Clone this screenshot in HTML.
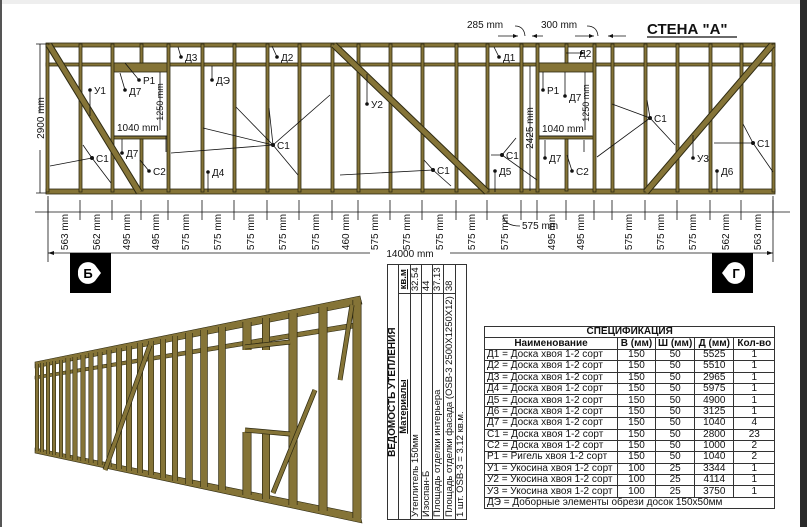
<!DOCTYPE html>
<html><head><meta charset="utf-8"><style>
html,body{margin:0;padding:0;background:#fff;width:807px;height:527px;overflow:hidden;position:relative;font-family:"Liberation Sans","DejaVu Sans",sans-serif}
svg{position:absolute;left:0;top:0}
#spec{position:absolute;left:484px;top:326px;border-collapse:collapse;font-size:10px;line-height:10px;color:#111}
#spec td{border:1px solid #333;padding:0 2px;height:10.4px;text-align:center;white-space:nowrap}
#spec td.l{text-align:left}
#ved{position:absolute;left:387px;top:268px;width:252px;height:80px;transform-origin:0 0;transform:translate(0,252px) rotate(-90deg);border-collapse:collapse;font-size:9.5px;line-height:10px;color:#111}
#ved td{border:1px solid #333;padding:0 2px;white-space:nowrap;height:10px}
</style></head><body>
<svg width="807" height="527" viewBox="0 0 807 527" font-family="Liberation Sans, DejaVu Sans, sans-serif">
<rect x="0" y="0" width="807" height="4" fill="#eee"/>
<rect x="0" y="0" width="2" height="527" fill="#555"/>
<rect x="800" y="0" width="7" height="527" fill="#2a2a2a"/>
<g fill="#857437" stroke="#2e2a12" stroke-width="0.8">
<rect x="46" y="43" width="729" height="4"/>
<rect x="46" y="63" width="729" height="3"/>
<rect x="46" y="189" width="729" height="5"/>
<rect x="112" y="63" width="56" height="9"/>
<rect x="112" y="136" width="56" height="3"/>
<rect x="537" y="63" width="57" height="9"/>
<rect x="537" y="136" width="57" height="3"/>
</g>
<g fill="#fff" stroke="none"><rect x="114" y="73" width="52" height="62"/><rect x="539" y="73" width="53" height="62"/></g>
<g fill="#857437" stroke="#2e2a12" stroke-width="0.8">
<rect x="46" y="44" width="3" height="148"/><rect x="79" y="44" width="3" height="148"/><rect x="111" y="44" width="3" height="148"/>
<rect x="140" y="44" width="3" height="19"/><rect x="140" y="139" width="3" height="52"/>
<rect x="167" y="44" width="3" height="148"/><rect x="201" y="44" width="3" height="148"/><rect x="233" y="44" width="3" height="148"/>
<rect x="266" y="44" width="3" height="148"/><rect x="298" y="44" width="3" height="148"/><rect x="331" y="44" width="3" height="148"/>
<rect x="357" y="44" width="3" height="148"/><rect x="389" y="44" width="3" height="148"/><rect x="421" y="44" width="3" height="148"/>
<rect x="455" y="44" width="3" height="148"/><rect x="486" y="44" width="3" height="148"/><rect x="520" y="44" width="3" height="148"/>
<rect x="536" y="44" width="3" height="148"/><rect x="565" y="44" width="3" height="19"/><rect x="565" y="139" width="3" height="52"/>
<rect x="593" y="44" width="3" height="148"/><rect x="611" y="44" width="3" height="148"/><rect x="644" y="44" width="3" height="148"/>
<rect x="676" y="44" width="3" height="148"/><rect x="709" y="44" width="3" height="148"/><rect x="740" y="44" width="3" height="148"/>
<rect x="772" y="44" width="3" height="148"/>
</g>
<g stroke-linecap="butt">
<line x1="49" y1="45" x2="139" y2="192" stroke="#2e2a12" stroke-width="7"/><line x1="49" y1="45" x2="139" y2="192" stroke="#857437" stroke-width="5"/>
<line x1="334" y1="45" x2="487" y2="192" stroke="#2e2a12" stroke-width="7"/><line x1="334" y1="45" x2="487" y2="192" stroke="#857437" stroke-width="5"/>
<line x1="772" y1="45" x2="646" y2="192" stroke="#2e2a12" stroke-width="7"/><line x1="772" y1="45" x2="646" y2="192" stroke="#857437" stroke-width="5"/>
</g>
<g stroke="#111" stroke-width="0.8" fill="none">
<path d="M178 47L181 57M272 46L277 57M125 63L139 80M212 66L212 80M90 90L90 116M120 73L125 90M122 139L122 153M140 160L149 171M208 172L208 192"/>
<path d="M273 145L203 128M273 145L236 107M273 145L269 108M273 145L330 95M273 145L298 175M273 145L171 153"/>
<path d="M92 158L50 166M92 158L83 145M92 158L111 183M367 104L367 74"/>
<path d="M433 170L340 175M433 170L424 160M433 170L451 186"/>
<path d="M494 47L499 57M566 53L585 53M543 90L543 72M565 96L565 72M545 158L545 140M572 171L567 155M495 171L495 192M693 158L693 135M717 171L717 192"/>
<path d="M650 118L612 104M650 118L647 100M650 118L675 145M650 118L597 157"/>
<path d="M502 155L491 155M502 155L516 138M502 155L537 180"/>
<path d="M753 143L714 143M753 143L743 124M753 143L773 172"/>
<path d="M114 136L167 136M539 136L592 136M530 66L530 191M585 72L585 130M160 72L160 130M166 136L166 152M584 140L584 152"/>
<path d="M40 44L40 112M40 150L40 193M36 44L46 44M36 193L46 193"/>
<path d="M35 212L790 212M48 196L48 262M773 196L773 262M48 253L370 253M450 253L773 253"/>
<path d="M503 216Q505 226 520 226M498 36L518 36M532 36L543 36M575 36L594 36M608 36L626 36M515 26Q524 26 525 36M587 26Q597 26 598 36"/>
</g>
<g fill="#111">
<path d="M518 36l-5-2v4zM532 36l5-2v4zM594 36l-5-2v4zM608 36l5-2v4zM48 253l6-2v4zM773 253l-6-2v4zM585 53l-5-2v4z"/>
</g>
<g stroke="#111" stroke-width="0.8">
<path d="M80 200V220M112 200V220M141 200V220M168 200V220M202 200V220M234 200V220M267 200V220M299 200V220M332 200V220M358 200V220M390 200V220M422 200V220M456 200V220M487 200V220M521 200V220M537 200V220M566 200V220M594 200V220M612 200V220M645 200V220M677 200V220M710 200V220M741 200V220M48 200V220M773 200V220"/>
</g>
<g fill="#111">
<circle cx="181" cy="57" r="1.8"/><circle cx="277" cy="57" r="1.8"/><circle cx="139" cy="80" r="1.8"/><circle cx="212" cy="80" r="1.8"/><circle cx="90" cy="90" r="1.8"/><circle cx="125" cy="90" r="1.8"/><circle cx="122" cy="153" r="1.8"/><circle cx="149" cy="171" r="1.8"/><circle cx="208" cy="172" r="1.8"/><circle cx="273" cy="145" r="2"/><circle cx="92" cy="158" r="2"/><circle cx="367" cy="104" r="1.8"/><circle cx="433" cy="170" r="2"/><circle cx="499" cy="57" r="1.8"/><circle cx="543" cy="90" r="1.8"/><circle cx="565" cy="96" r="1.8"/><circle cx="545" cy="158" r="1.8"/><circle cx="572" cy="171" r="1.8"/><circle cx="495" cy="171" r="1.8"/><circle cx="693" cy="158" r="1.8"/><circle cx="717" cy="171" r="1.8"/><circle cx="650" cy="118" r="2"/><circle cx="502" cy="155" r="2"/><circle cx="753" cy="143" r="2"/>
</g>
<g font-size="10" fill="#111">
<text x="185" y="61">Д3</text><text x="281" y="61">Д2</text><text x="143" y="84">Р1</text><text x="216" y="84">ДЭ</text><text x="94" y="94">У1</text><text x="129" y="95">Д7</text><text x="126" y="157">Д7</text><text x="153" y="175">С2</text><text x="212" y="176">Д4</text><text x="277" y="149">С1</text><text x="96" y="162">С1</text><text x="371" y="108">У2</text><text x="437" y="174">С1</text><text x="503" y="61">Д1</text><text x="579" y="57">Д2</text><text x="547" y="94">Р1</text><text x="569" y="101">Д7</text><text x="549" y="162">Д7</text><text x="576" y="175">С2</text><text x="499" y="175">Д5</text><text x="697" y="162">У3</text><text x="721" y="175">Д6</text><text x="654" y="122">С1</text><text x="506" y="159">С1</text><text x="757" y="147">С1</text>
<text x="117" y="131">1040 mm</text><text x="542" y="132">1040 mm</text>
<text x="467" y="28">285 mm</text><text x="541" y="28">300 mm</text>
<text x="522" y="229">575 mm</text>
<text x="410" y="257" text-anchor="middle">14000 mm</text>
<text transform="translate(163,102) rotate(-90)" text-anchor="middle" font-size="9">1250 mm</text>
<text transform="translate(589,103) rotate(-90)" text-anchor="middle" font-size="9">1250 mm</text>
<text transform="translate(533,128) rotate(-90)" text-anchor="middle">2425 mm</text>
<text transform="translate(44,118) rotate(-90)" text-anchor="middle">2900 mm</text>
</g>
<g font-size="10" fill="#111" text-anchor="middle">
<text transform="translate(68,232) rotate(-90)">563 mm</text><text transform="translate(100,232) rotate(-90)">562 mm</text><text transform="translate(130,232) rotate(-90)">495 mm</text><text transform="translate(159,232) rotate(-90)">495 mm</text><text transform="translate(189,232) rotate(-90)">575 mm</text><text transform="translate(221,232) rotate(-90)">575 mm</text><text transform="translate(254,232) rotate(-90)">575 mm</text><text transform="translate(286,232) rotate(-90)">575 mm</text><text transform="translate(319,232) rotate(-90)">575 mm</text><text transform="translate(349,232) rotate(-90)">460 mm</text><text transform="translate(378,232) rotate(-90)">575 mm</text><text transform="translate(410,232) rotate(-90)">575 mm</text><text transform="translate(443,232) rotate(-90)">575 mm</text><text transform="translate(475,232) rotate(-90)">575 mm</text><text transform="translate(508,232) rotate(-90)">575 mm</text><text transform="translate(555,232) rotate(-90)">495 mm</text><text transform="translate(584,232) rotate(-90)">495 mm</text><text transform="translate(632,232) rotate(-90)">575 mm</text><text transform="translate(664,232) rotate(-90)">575 mm</text><text transform="translate(696,232) rotate(-90)">575 mm</text><text transform="translate(729,232) rotate(-90)">562 mm</text><text transform="translate(761,232) rotate(-90)">563 mm</text>
</g>
<text x="647" y="34" font-size="15" font-weight="bold" fill="#111">СТЕНА "А"</text>
<line x1="647" y1="37" x2="737" y2="37" stroke="#111" stroke-width="1.2"/>
<rect x="70" y="253" width="41" height="40" fill="#000"/>
<path d="M78 273a10 10 0 0 1 17-8l6 8l-6 8a10 10 0 0 1-17-8z" fill="#fff"/>
<text x="88" y="278" font-size="13" font-weight="bold" text-anchor="middle">Б</text>
<rect x="712" y="253" width="41" height="40" fill="#000"/>
<path d="M745 273a10 10 0 0 0-17-8l-6 8l6 8a10 10 0 0 0 17-8z" fill="#fff"/>
<text x="736" y="278" font-size="13" font-weight="bold" text-anchor="middle">Г</text>
<!-- 3D -->
<g fill="#857437" stroke="#2e2a12" stroke-width="0.6">
<polygon points="35,362 360,296 362,304 35,368"/>
<polygon points="35,448 360,514 362,523 35,453"/>
<polygon points="35,376 360,322 360,327 35,379"/>
</g>
<g stroke="#2e2a12" stroke-linecap="butt">
<path stroke-width="4" d="M37 364V451M42 363V452M48 362V454M54 361V455M61 360V457"/>
<path stroke-width="5" d="M68 358V458M75 357V460M83 355V461M91 353V463M100 352V465M109 350V467"/>
<path stroke-width="6" d="M119 348V469M129 346V471M140 343V473M151 341V475M163 339V478M175 336V481"/>
<path stroke-width="7.5" d="M189 333V484M204 330V487M222 327V490"/>
<path stroke-width="9" d="M247 322V350M247 432V495M293 313V505M323 307V511M357 300V518"/>
<path stroke-width="8" d="M266 318V350M266 432V499"/>
</g>
<g stroke="#857437" stroke-linecap="butt">
<path stroke-width="2.8" d="M37 364V451M42 363V452M48 362V454M54 361V455M61 360V457"/>
<path stroke-width="3.8" d="M68 358V458M75 357V460M83 355V461M91 353V463M100 352V465M109 350V467"/>
<path stroke-width="4.8" d="M119 348V469M129 346V471M140 343V473M151 341V475M163 339V478M175 336V481"/>
<path stroke-width="6.2" d="M189 333V484M204 330V487M222 327V490"/>
<path stroke-width="7.6" d="M247 322V350M247 432V495M293 313V505M323 307V511M357 300V518"/>
<path stroke-width="6.6" d="M266 318V350M266 432V499"/>
<path stroke="#2e2a12" stroke-width="5" d="M245 347L290 342M245 430L290 434M105 470L150 345M273 493L315 390M340 380L352 305"/>
<path stroke-width="3.6" d="M245 347L290 342M245 430L290 434M105 470L150 345M273 493L315 390M340 380L352 305"/>
</g>
</svg>
<table id="ved">
<tr><td colspan="2" style="text-align:center;font-weight:bold;font-size:10px">ВЕДОМОСТЬ УТЕПЛЕНИЯ</td></tr>
<tr><td style="text-align:center;font-weight:bold"><u>Материалы</u></td><td style="font-weight:bold;text-align:center"><u>кв.м</u></td></tr>
<tr><td>Утеплитель 150мм</td><td>32.54</td></tr>
<tr><td>Изоспан-Б</td><td>44</td></tr>
<tr><td>Площадь отделки интерьера</td><td>37.13</td></tr>
<tr><td>Площадь отделки фасада (OSB-3 2500X1250X12)</td><td>38</td></tr>
<tr><td colspan="2">1 шт. OSB-3 = 3.12 кв.м.</td></tr>
</table>
<table id="spec">
<tr><td colspan="5" style="font-weight:bold">СПЕЦИФИКАЦИЯ</td></tr>
<tr style="font-weight:bold"><td style="width:128px">Наименование</td><td style="width:33px">В (мм)</td><td style="width:34px">Ш (мм)</td><td style="width:34px">Д (мм)</td><td style="width:36px">Кол-во</td></tr>
<tr><td class="l">Д1 = Доска хвоя 1-2 сорт</td><td>150</td><td>50</td><td>5525</td><td>1</td></tr>
<tr><td class="l">Д2 = Доска хвоя 1-2 сорт</td><td>150</td><td>50</td><td>5510</td><td>1</td></tr>
<tr><td class="l">Д3 = Доска хвоя 1-2 сорт</td><td>150</td><td>50</td><td>2965</td><td>1</td></tr>
<tr><td class="l">Д4 = Доска хвоя 1-2 сорт</td><td>150</td><td>50</td><td>5975</td><td>1</td></tr>
<tr><td class="l">Д5 = Доска хвоя 1-2 сорт</td><td>150</td><td>50</td><td>4900</td><td>1</td></tr>
<tr><td class="l">Д6 = Доска хвоя 1-2 сорт</td><td>150</td><td>50</td><td>3125</td><td>1</td></tr>
<tr><td class="l">Д7 = Доска хвоя 1-2 сорт</td><td>150</td><td>50</td><td>1040</td><td>4</td></tr>
<tr><td class="l">С1 = Доска хвоя 1-2 сорт</td><td>150</td><td>50</td><td>2800</td><td>23</td></tr>
<tr><td class="l">С2 = Доска хвоя 1-2 сорт</td><td>150</td><td>50</td><td>1000</td><td>2</td></tr>
<tr><td class="l">Р1 = Ригель хвоя 1-2 сорт</td><td>150</td><td>50</td><td>1040</td><td>2</td></tr>
<tr><td class="l">У1 = Укосина хвоя 1-2 сорт</td><td>100</td><td>25</td><td>3344</td><td>1</td></tr>
<tr><td class="l">У2 = Укосина хвоя 1-2 сорт</td><td>100</td><td>25</td><td>4114</td><td>1</td></tr>
<tr><td class="l">У3 = Укосина хвоя 1-2 сорт</td><td>100</td><td>25</td><td>3750</td><td>1</td></tr>
<tr><td class="l" colspan="5">ДЭ = Доборные элементы обрези досок 150х50мм</td></tr>
</table>
</body></html>
